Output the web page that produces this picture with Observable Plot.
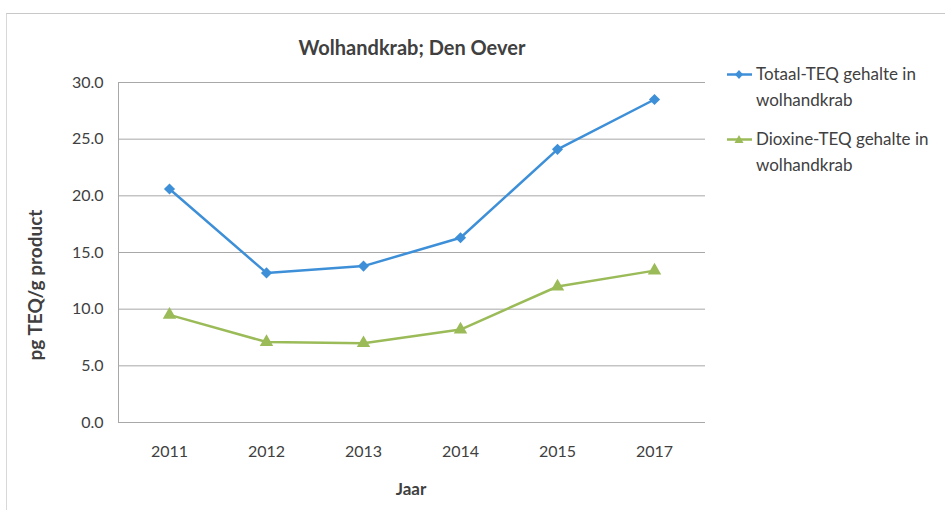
<!DOCTYPE html>
<html>
<head>
<meta charset="utf-8">
<script src="https://cdn.jsdelivr.net/npm/d3@7"></script>
<script src="https://cdn.jsdelivr.net/npm/@observablehq/plot@0.6"></script>
<style>
  body { margin: 0; background: #fff; }
  #wrap { position: relative; width: 945px; height: 510px; font-family: Lato, "Open Sans", sans-serif; color: #404040; overflow: hidden; }
  #frame { position: absolute; left: 6px; top: 13px; width: 960px; height: 520px; border-top: 1px solid #c8c8c8; border-left: 1px solid #d8d8d8; }
  .t { position: absolute; white-space: nowrap; }
  #title { left: 0; width: 824px; top: 35px; text-align: center; font-size: 20px; font-weight: bold; }
  #ylab { left: 34px; top: 285px; transform: translate(-50%, -50%) rotate(-90deg); font-size: 19px; font-weight: bold; }
  #xlab { left: 0; width: 822px; top: 478px; text-align: center; font-size: 17px; font-weight: bold; }
  #legend { position: absolute; left: 726px; top: 61px; font-size: 17px; line-height: 26px; }
  .item { display: flex; align-items: flex-start; margin-bottom: 13px; }
  .item svg { margin-top: 6px; margin-right: 3px; flex: none; }
</style>
</head>
<body>
<div id="wrap">
  <div id="frame"></div>
  <div id="chart"></div>
  <div class="t" id="title">Wolhandkrab; Den Oever</div>
  <div class="t" id="ylab">pg TEQ/g product</div>
  <div class="t" id="xlab">Jaar</div>
  <div id="legend"></div>
</div>
<script>
const years = ["2011", "2012", "2013", "2014", "2015", "2017"];
const totaalTEQ = [20.6, 13.2, 13.8, 16.3, 24.1, 28.5];
const dioxineTEQ = [9.5, 7.1, 7.0, 8.2, 12.0, 13.4];
const seriesNames = ["Totaal-TEQ gehalte in wolhandkrab", "Dioxine-TEQ gehalte in wolhandkrab"];
const legendLines = [["Totaal-TEQ gehalte in", "wolhandkrab"], ["Dioxine-TEQ gehalte in", "wolhandkrab"]];
const yTicks = [0, 5, 10, 15, 20, 25, 30];

const colors = ["#3d8fd8", "#9bbb59"];
const symbols = ["diamond2", "triangle"];

const data = [];
years.forEach((y, i) => {
  data.push({ year: y, value: totaalTEQ[i], series: seriesNames[0] });
  data.push({ year: y, value: dioxineTEQ[i], series: seriesNames[1] });
});

const chart = Plot.plot({
  width: 945,
  height: 510,
  marginLeft: 118,
  marginRight: 240,
  marginTop: 82,
  marginBottom: 88,
  style: { fontFamily: "Lato, 'Open Sans', sans-serif", fontSize: "16px", color: "#404040", background: "transparent" },
  x: { type: "point", domain: years, padding: 0.5, label: null },
  y: { domain: [0, 30], label: null },
  color: { domain: seriesNames, range: colors },
  symbol: { domain: seriesNames, range: symbols },
  marks: [
    Plot.ruleY(yTicks, { stroke: "#a8a8a8", strokeWidth: 1 }),
    Plot.frame({ anchor: "left", stroke: "#a8a8a8" }),
    Plot.axisY(yTicks, { tickSize: 0, tickPadding: 15, tickFormat: d3.format(".1f"), fontSize: 16, fill: "#404040" }),
    Plot.axisX({ tickSize: 0, tickPadding: 23, fontSize: 16, fill: "#404040" }),
    Plot.line(data, { x: "year", y: "value", stroke: "series", strokeWidth: 2.5 }),
    Plot.dot(data, { x: "year", y: "value", fill: "series", symbol: "series", r: 5, stroke: null })
  ]
});
document.getElementById("chart").appendChild(chart);

const legend = document.getElementById("legend");
seriesNames.forEach((name, i) => {
  const item = document.createElement("div");
  item.className = "item";
  const sym = symbols[i] === "triangle"
    ? `<path d="M13,3 L17.5,11 L8.5,11 Z" fill="${colors[i]}"/>`
    : `<path d="M13,3 L17,7.5 L13,12 L9,7.5 Z" fill="${colors[i]}"/>`;
  item.innerHTML = `<svg width="27" height="16"><line x1="1" x2="26" y1="7.5" y2="7.5" stroke="${colors[i]}" stroke-width="2.5"/>${sym}</svg><div>${legendLines[i].join("<br>")}</div>`;
  legend.appendChild(item);
});
</script>
</body>
</html>
